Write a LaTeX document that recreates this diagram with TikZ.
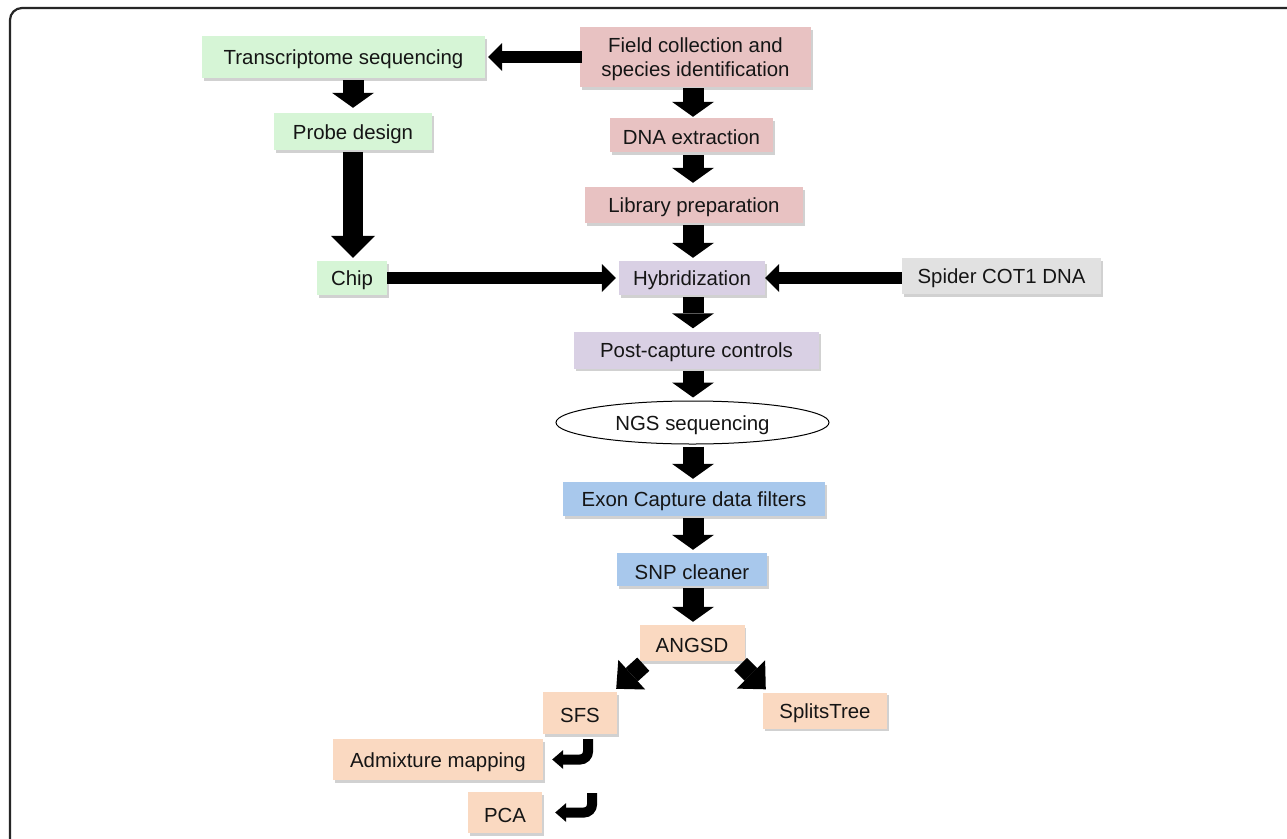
\documentclass[tikz,border=0pt]{standalone}
\usepackage{fontspec}
\setmainfont{Liberation Sans}
\usetikzlibrary{arrows.meta,shapes.geometric,shadows,calc}
\definecolor{gbox}{HTML}{D6F5D6}
\definecolor{pbox}{HTML}{E8C2C2}
\definecolor{lbox}{HTML}{D9D0E4}
\definecolor{ybox}{HTML}{E1E1E1}
\definecolor{bbox}{HTML}{A8C8EC}
\definecolor{obox}{HTML}{FAD9C1}
\definecolor{txt}{HTML}{151515}
\newcommand\lowr[1]{\raisebox{-2.5pt}[\height][\depth]{#1}}
\begin{document}
\begin{tikzpicture}[x=1pt,y=-1pt,
  font=\fontsize{20.4}{24.5}\selectfont,
  box/.style={draw=none, inner sep=0pt, align=center, text=txt,
    drop shadow={shadow xshift=1.5pt, shadow yshift=-2.5pt, fill=black, opacity=0.18}},
  varrow/.style={line width=21pt, shorten <=2pt, shorten >=3pt,
    -{Triangle[width=42pt,length=15pt,line width=0pt]}},
  vlarrow/.style={line width=20pt, shorten <=2pt, shorten >=3pt,
    -{Triangle[width=44pt,length=22pt,line width=0pt]}},
  harrow/.style={line width=12pt, shorten <=0pt, shorten >=3pt,
    -{Triangle[width=28pt,length=14pt,line width=0pt]}},
  darrow/.style={line width=18pt,
    -{Triangle[width=40pt,length=21pt,line width=0pt]}},
  carrow/.style={line width=10pt, rounded corners=8pt,
    -{Triangle[width=19pt,length=11pt,line width=0pt]}}
]
\useasboundingbox (0,0) rectangle (1287,838);
\fill[white] (0,0) rectangle (1287,838);
\draw[line width=2.2pt, black!85, rounded corners=12pt] (10,860) -- (10,8) -- (1310,8);

\coordinate (ax) at (693,0);

\node[box, fill=gbox, minimum width=283pt, minimum height=42pt] (trans) at (343.5,57) {\lowr{Transcriptome sequencing}};
\node[box, fill=pbox, minimum width=231pt, minimum height=60pt] (field) at (695.5,57) {\lowr{\begin{tabular}{@{}c@{}}Field collection and\\species identification\end{tabular}}};
\node[box, fill=gbox, minimum width=158pt, minimum height=37pt] (probe) at (353,131.5) {\lowr{Probe design}};
\node[box, fill=pbox, minimum width=163pt, minimum height=34pt] (dna) at (691.5,135) {\lowr{DNA extraction}};
\node[box, fill=pbox, minimum width=218pt, minimum height=36pt] (lib) at (694,205) {\lowr{Library preparation}};
\node[box, fill=gbox, minimum width=70pt, minimum height=34pt] (chip) at (352,278) {\lowr{Chip}};
\node[box, fill=lbox, minimum width=146pt, minimum height=34pt] (hyb) at (692,278) {\lowr{Hybridization}};
\node[box, fill=ybox, minimum width=199pt, minimum height=36pt] (spider) at (1001.5,276) {\lowr{Spider COT1 DNA}};
\node[box, fill=lbox, minimum width=245pt, minimum height=37pt] (post) at (696.5,350) {\lowr{Post-capture controls}};
\node[ellipse, draw=black, line width=1pt, fill=white, inner sep=0pt, text=txt,
  minimum width=273pt, minimum height=43pt] (ngs) at (692.5,422.5) {\lowr{NGS sequencing}};
\node[box, fill=bbox, minimum width=262pt, minimum height=34pt] (exon) at (694,499) {\lowr{Exon Capture data filters}};
\node[box, fill=bbox, minimum width=150pt, minimum height=33pt] (snp) at (692,569.5) {\lowr{SNP cleaner}};
\node[box, fill=obox, minimum width=105pt, minimum height=36pt] (angsd) at (692,643) {\lowr{ANGSD}};
\node[box, fill=obox, minimum width=74pt, minimum height=42pt] (sfs) at (580,713) {\lowr{SFS}};
\node[box, fill=obox, minimum width=124pt, minimum height=36pt] (split) at (825,710.5) {\lowr{SplitsTree}};
\node[box, fill=obox, minimum width=210pt, minimum height=41pt] (admix) at (438,759.5) {\lowr{Admixture mapping}};
\node[box, fill=obox, minimum width=74pt, minimum height=41pt] (pca) at (505,812.5) {\lowr{PCA}};

% connectors
\draw[harrow, shorten <=-2pt] (field.west) -- (trans.east);
\draw[varrow, shorten >=5pt] (probe.north |- trans.south) -- (probe.north);
\draw[vlarrow] (probe.south) -- (probe.south |- chip.north);
\draw[harrow] (chip.east) -- (hyb.west);
\draw[harrow, shorten >=0pt] (spider.west |- hyb.east) -- (hyb.east);

\draw[varrow, shorten <=1pt, shorten >=1pt] (field.south -| ax) -- (dna.north -| ax);
\draw[varrow, shorten <=3pt, shorten >=4pt] (dna.south -| ax) -- (lib.north -| ax);
\draw[varrow] (lib.south -| ax) -- (hyb.north -| ax);
\draw[varrow] (hyb.south -| ax) -- (post.north -| ax);
\draw[varrow] (post.south -| ax) -- (ngs.north -| ax);
\draw[varrow] (ngs.south -| ax) -- (exon.north -| ax);
\draw[varrow] (exon.south -| ax) -- (snp.north -| ax);
\draw[varrow] (snp.south -| ax) -- (angsd.north -| ax);

\draw[darrow] ($(angsd.south west)+(4,3)$) -- ($(sfs.north east)+(-1,-3)$);
\draw[darrow] ($(angsd.south east)+(-4,3)$) -- ($(split.north west)+(3,-3)$);

\draw[carrow, shorten >=9pt] ($(sfs.south)+(8,5)$) |- (admix.east);
\coordinate (c2) at (592,793);
\draw[carrow, shorten >=13pt] (c2) |- (pca.east);
\end{tikzpicture}
\end{document}
